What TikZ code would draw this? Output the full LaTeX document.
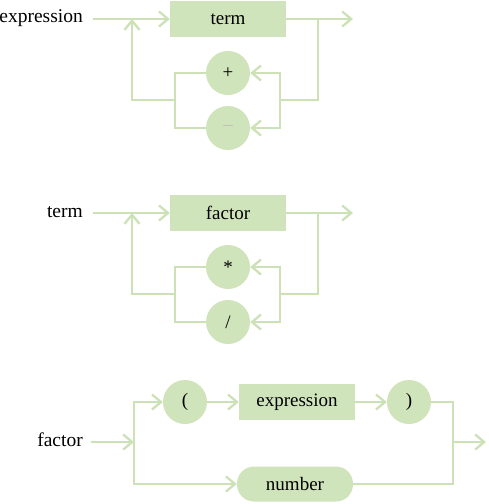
\documentclass[tikz,border=0pt]{standalone}
\usepackage{fontspec}
\setmainfont{Liberation Serif}
\usetikzlibrary{arrows.meta}
\definecolor{G}{RGB}{208,228,188}
\definecolor{GL}{RGB}{204,225,182}
\tikzset{
  ln/.style={draw=GL, line width=2.3pt},
  arr/.style={-{Straight Barb[length=9pt,width=15pt,line width=2.3pt]}},
  box/.style={rectangle, fill=G, minimum width=116pt, minimum height=36pt, inner sep=0pt, font=\fontsize{19}{21}\selectfont},
  circ/.style={circle, fill=G, minimum size=44pt, inner sep=0pt, font=\fontsize{19}{21}\selectfont},
  pill/.style={rectangle, rounded corners=17pt, fill=G, minimum width=116pt, minimum height=35pt, inner sep=0pt, font=\fontsize{19}{21}\selectfont},
  lbl/.style={anchor=east, inner sep=0pt, font=\fontsize{19.5}{21}\selectfont},
}
\begin{document}
\begin{tikzpicture}[x=1pt,y=-1pt]
\useasboundingbox (0,0) rectangle (488,504);

% ---------- expression ----------
\node[lbl] (L1) at (83,18) {expression};
\coordinate (s1) at (93,19);
\coordinate (b1) at (132,19);
\coordinate (r1) at (318,19);
\coordinate (e1) at (353,19);
\coordinate (jr1) at (280,100);
\coordinate (jl1) at (175,100);
\node[box] (T1) at (228,19) {term};
\node[circ] (P1) at (228,73) {+};
\node[circ, text=black!25] (M1) at (228,128) {–};
\draw[ln,arr] (s1) -- (T1);
\draw[ln,arr] (T1) -- (e1);
\draw[ln] (r1) |- (jr1);
\draw[ln,arr] (jr1) |- (P1);
\draw[ln,arr] (jr1) |- (M1);
\draw[ln] (P1) -| (jl1);
\draw[ln] (M1) -| (jl1);
\draw[ln,arr] (jl1) -| (b1);

% ---------- term ----------
\node[lbl] (L2) at (83,212) {term};
\coordinate (s2) at (93,213);
\coordinate (b2) at (132,213);
\coordinate (r2) at (318,213);
\coordinate (e2) at (353,213);
\coordinate (jr2) at (280,294);
\coordinate (jl2) at (175,294);
\node[box] (T2) at (228,213) {factor};
\node[circ] (P2) at (228,267) {*};
\node[circ] (M2) at (228,322) {/};
\draw[ln,arr] (s2) -- (T2);
\draw[ln,arr] (T2) -- (e2);
\draw[ln] (r2) |- (jr2);
\draw[ln,arr] (jr2) |- (P2);
\draw[ln,arr] (jr2) |- (M2);
\draw[ln] (P2) -| (jl2);
\draw[ln] (M2) -| (jl2);
\draw[ln,arr] (jl2) -| (b2);

% ---------- factor ----------
\node[lbl] (L3) at (83,440) {factor};
\coordinate (s3) at (91,442);
\coordinate (j3) at (134,442);
\coordinate (r3) at (453,442);
\coordinate (e3) at (486,442);
\node[circ] (LP) at (185,402) {(};
\node[box] (EX) at (297,402) {expression};
\node[circ] (RP) at (409,402) {)};
\node[pill] (NU) at (295,484) {number};
\draw[ln,arr] (s3) -- (j3);
\draw[ln,arr] (j3) |- (LP);
\draw[ln,arr] (j3) |- (NU);
\draw[ln,arr] (LP) -- (EX);
\draw[ln,arr] (EX) -- (RP);
\draw[ln] (RP) -| (r3);
\draw[ln] (NU) -| (r3);
\draw[ln,arr] (r3) -- (e3);
\end{tikzpicture}
\end{document}
